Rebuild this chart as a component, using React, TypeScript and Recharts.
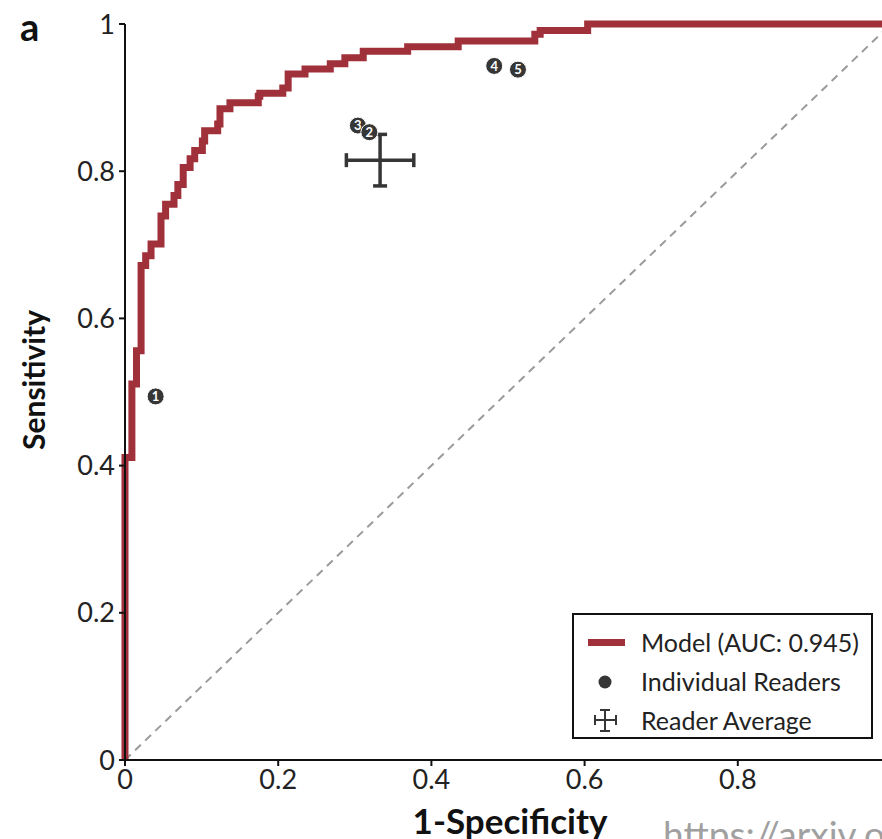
import React from 'react';
import { ComposedChart, Line, Scatter, ErrorBar, XAxis, YAxis, Legend } from 'recharts';

// ROC curve corners: x = 1-specificity where the rise happens, y = sensitivity after it
const rocFpr = [0, 0, 0.009, 0.015, 0.021, 0.027, 0.034, 0.047, 0.053, 0.064, 0.069, 0.076, 0.085, 0.091, 0.101, 0.104, 0.121, 0.124, 0.137, 0.174, 0.176, 0.206, 0.213, 0.235, 0.268, 0.287, 0.311, 0.369, 0.435, 0.535, 0.542, 0.604, 1.0];
const rocTpr = [0, 0.411, 0.511, 0.556, 0.672, 0.685, 0.701, 0.739, 0.755, 0.767, 0.782, 0.805, 0.817, 0.828, 0.841, 0.855, 0.864, 0.885, 0.893, 0.902, 0.906, 0.913, 0.932, 0.939, 0.946, 0.954, 0.963, 0.969, 0.977, 0.986, 0.991, 1.0, 1.0];

const chanceFpr = [0, 1];
const chanceTpr = [0, 1];

// individual readers (3 drawn before 2 so 2 sits on top)
const readerIds = ['1', '3', '2', '4', '5'];
const readerFpr = [0.040, 0.304, 0.319, 0.482, 0.513];
const readerTpr = [0.494, 0.862, 0.853, 0.943, 0.938];

const avgFpr = [0.333];
const avgTpr = [0.815];
const avgFprErr = [0.044];
const avgTprErr = [0.035];

const xTicks = [0, 0.2, 0.4, 0.6, 0.8];
const yTicks = [0, 0.2, 0.4, 0.6, 0.8, 1];
const legendLabels = ['Model (AUC: 0.945)', 'Individual Readers', 'Reader Average'];

const RED = '#a0303a';
const DARK = '#363636';
const FONT = 'Lato, "Open Sans", sans-serif';

const rocData = rocFpr.map((x, i) => ({ x, y: rocTpr[i] }));
const chanceData = chanceFpr.map((x, i) => ({ x, y: chanceTpr[i] }));
const readerData = readerIds.map((id, i) => ({ id, x: readerFpr[i], y: readerTpr[i] }));
const avgData = avgFpr.map((x, i) => ({ x, y: avgTpr[i], xErr: avgFprErr[i], yErr: avgTprErr[i] }));

const fmt = (v: number) => (v === 0 || v === 1 ? String(v) : v.toFixed(1));

const ReaderDot = (props: any) => {
  const { cx, cy, payload } = props;
  return (
    <g>
      <circle cx={cx} cy={cy} r={8.5} fill={DARK} stroke="#fff" strokeWidth={1} />
      <text x={cx} y={cy} dy="0.36em" textAnchor="middle" fill="#fff" fontSize={13} fontWeight={700} fontFamily={FONT}>
        {payload.id}
      </text>
    </g>
  );
};

const LegendBox = () => (
  <div
    style={{
      position: 'relative',
      width: 301,
      height: 126,
      border: '2px solid #111',
      boxSizing: 'border-box',
      background: '#fff',
      fontFamily: FONT,
      fontSize: 25,
      color: '#222'
    }}
  >
    <svg width={60} height={122} style={{ position: 'absolute', left: 0, top: 0 }}>
      <rect x={14} y={24} width={37} height={7} fill={RED} />
      <circle cx={31} cy={67} r={6.5} fill={DARK} />
      <line x1={21} y1={105} x2={42} y2={105} stroke={DARK} strokeWidth={2} />
      <line x1={21} y1={100} x2={21} y2={110} stroke={DARK} strokeWidth={2} />
      <line x1={42} y1={100} x2={42} y2={110} stroke={DARK} strokeWidth={2} />
      <line x1={31} y1={95} x2={31} y2={116} stroke={DARK} strokeWidth={2} />
      <line x1={26} y1={95} x2={36} y2={95} stroke={DARK} strokeWidth={2} />
      <line x1={26} y1={116} x2={36} y2={116} stroke={DARK} strokeWidth={2} />
    </svg>
    {legendLabels.map((label, i) => (
      <div key={label} style={{ position: 'absolute', left: 67, top: 11 + i * 39, lineHeight: '32px', whiteSpace: 'nowrap' }}>
        {label}
      </div>
    ))}
  </div>
);

export default function App() {
  return (
    <div
      style={{
        position: 'fixed',
        left: 8,
        top: 8,
        width: 874,
        height: 831,
        overflow: 'hidden',
        fontFamily: FONT,
        background: '#fff'
      }}
    >
      <ComposedChart width={900} height={831} margin={{ top: 16, right: 17, left: 57, bottom: 39 }}>
        <XAxis
          dataKey="x"
          type="number"
          domain={[0, 1]}
          ticks={xTicks}
          tickFormatter={fmt}
          height={40}
          tickSize={6}
          tickMargin={4}
          axisLine={{ stroke: '#111', strokeWidth: 2 }}
          tickLine={{ stroke: '#111', strokeWidth: 2 }}
          tick={{ fill: '#222', fontSize: 27, fontFamily: FONT }}
        />
        <XAxis
          xAxisId="top"
          orientation="top"
          type="number"
          domain={[0, 1]}
          height={0}
          tick={false}
          tickLine={false}
          axisLine={{ stroke: '#111', strokeWidth: 2 }}
        />
        <YAxis
          dataKey="y"
          type="number"
          domain={[0, 1]}
          ticks={yTicks}
          tickFormatter={fmt}
          width={60}
          tickSize={6}
          tickMargin={4}
          axisLine={{ stroke: '#111', strokeWidth: 2 }}
          tickLine={{ stroke: '#111', strokeWidth: 2 }}
          tick={{ fill: '#222', fontSize: 27, fontFamily: FONT }}
        />
        <Line
          data={chanceData}
          dataKey="y"
          type="linear"
          stroke="#9a9a9a"
          strokeWidth={2}
          strokeDasharray="8 6"
          dot={false}
          isAnimationActive={false}
        />
        <Line
          data={rocData}
          dataKey="y"
          type="stepAfter"
          stroke={RED}
          strokeWidth={7}
          dot={false}
          isAnimationActive={false}
        />
        <Scatter data={readerData} dataKey="y" shape={ReaderDot} isAnimationActive={false} />
        <Scatter data={avgData} dataKey="y" shape={() => <g />} isAnimationActive={false}>
          <ErrorBar dataKey="xErr" direction="x" width={7} stroke={DARK} strokeWidth={3.5} isAnimationActive={false} />
          <ErrorBar dataKey="yErr" direction="y" width={7} stroke={DARK} strokeWidth={3.5} isAnimationActive={false} />
        </Scatter>
        <Legend
          layout="horizontal"
          verticalAlign="middle"
          align="center"
          content={() => <LegendBox />}
          wrapperStyle={{ left: 564, top: 605, width: 301, height: 126 }}
        />
      </ComposedChart>
      <svg
        width={874}
        height={831}
        style={{ position: 'absolute', left: 0, top: 0, pointerEvents: 'none', overflow: 'visible' }}
      >
        <text x={12} y={33} fontSize={38} fontWeight={700} fill="#111" fontFamily={FONT}>a</text>
        <text
          x={0}
          y={0}
          transform="translate(37,372) rotate(-90)"
          textAnchor="middle"
          fontSize={30}
          fontWeight={700}
          fill="#111"
          fontFamily={FONT}
        >
          Sensitivity
        </text>
        <text x={502} y={826} textAnchor="middle" fontSize={35} fontWeight={700} fill="#111" fontFamily={FONT}>
          1-Specificity
        </text>
        <text x={655} y={840} fontSize={37} fill="#a0a0a0" fontFamily={FONT}>
          https://arxiv.org
        </text>
      </svg>
    </div>
  );
}
